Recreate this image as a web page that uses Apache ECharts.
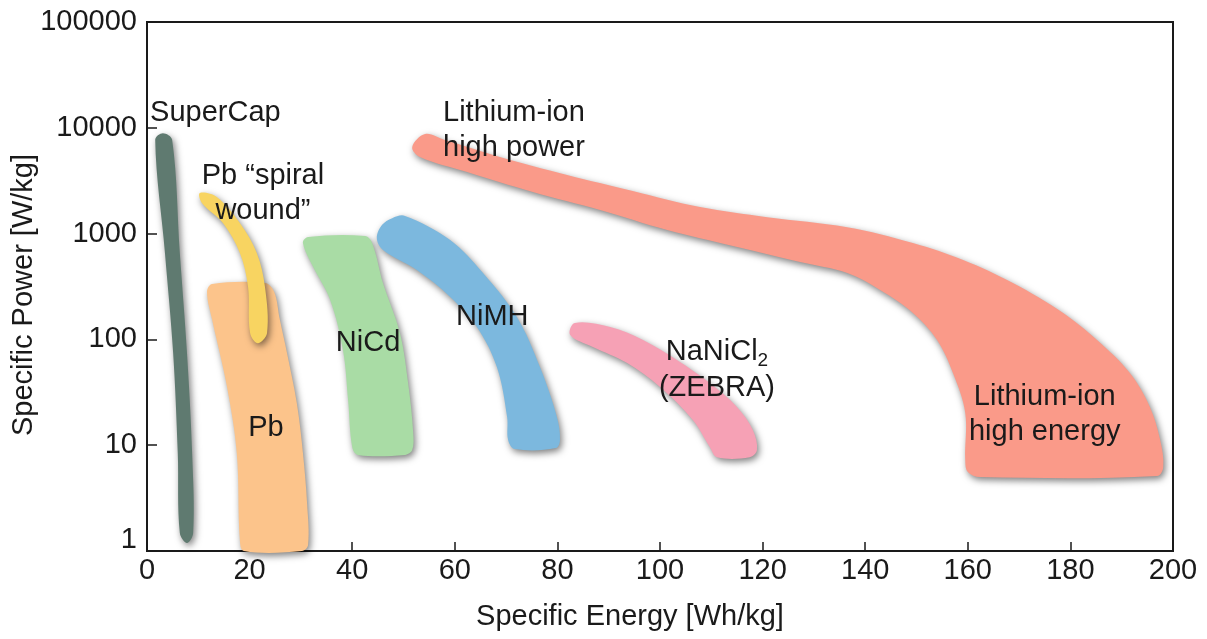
<!DOCTYPE html>
<html>
<head>
<meta charset="utf-8">
<title>Ragone plot</title>
<script src="https://cdn.jsdelivr.net/npm/echarts@6/dist/echarts.min.js"></script>
<style>
  html, body { margin: 0; padding: 0; background: #fff; }
  #chart { width: 1207px; height: 639px; }
</style>
</head>
<body>
<div id="chart"></div>
<script>
// Outline of each storage technology region as [specific energy Wh/kg, specific power W/kg]
const superCap = [
  [3.1, 8900], [4.9, 7700], [6.4, 656], [7.8, 74], [8.8, 8.4], [9.0, 1.48],
  [7.8, 1.19], [6.4, 1.48], [6.0, 8.4], [5.1, 74], [3.5, 656], [1.6, 7700]
];
const leadAcid = [
  [12.7, 334], [23.0, 341], [24.8, 281], [25.9, 153], [27.3, 74], [29.2, 25],
  [30.4, 8.4], [31.2, 2.84], [31.4, 1.14], [30.2, 1], [18.9, 1], [18.1, 1.27],
  [17.5, 8.4], [15.6, 35.5], [12.7, 153], [11.7, 281]
];
const spiralWound = [
  [10.3, 2420], [13.6, 2220], [18.1, 1260], [21.4, 656], [23.0, 313], [23.4, 115],
  [21.6, 92], [20.1, 115], [19.7, 313], [18.1, 656], [14.8, 1260], [10.7, 1950]
];
const nickelCadmium = [
  [31.4, 929], [42.5, 949], [43.9, 815], [46.0, 341], [49.3, 115], [50.9, 38.7],
  [51.9, 13.0], [51.7, 9.0], [50.3, 8.1], [41.1, 8.1], [40.0, 9.6], [39.2, 26.7],
  [38.2, 79.4], [35.7, 236], [32.4, 483], [30.4, 815]
];
const nickelMetalHydride = [
  [47.8, 1400], [50.3, 1470], [59.1, 870], [65.5, 424], [72.1, 163], [76.6, 54.8],
  [79.9, 18.5], [80.5, 11.2], [79.7, 9.4], [71.7, 9.2], [70.4, 11.2], [70.2, 18.5],
  [68.2, 54.8], [64.3, 131], [59.1, 252], [52.6, 453], [46.0, 700], [44.8, 908], [45.8, 1206]
];
const zebra = [
  [83.4, 143], [90.3, 131], [96.7, 98.7], [103.3, 63.9], [109.7, 38.7], [115.0, 23.0],
  [118.1, 13.9], [118.9, 9.0], [117.5, 7.7], [111.1, 7.7], [109.7, 9.6], [106.4, 17.3],
  [100.0, 35.5], [93.6, 59.8], [86.9, 84.8], [82.5, 110]
];
const lithiumIon = [
  [51.7, 6590], [54.2, 8740], [58.1, 7670], [68.8, 5300], [81.9, 3580], [94.7, 2530],
  [107.8, 1780], [120.9, 1430], [136.5, 1150], [149.3, 815], [159.1, 563], [168.8, 341],
  [178.6, 178], [185.2, 98.7], [191.6, 48.1], [195.5, 23.0], [197.5, 11.2], [198.1, 6.22],
  [196.9, 5.12], [162.4, 5.0], [160.0, 5.58], [159.5, 7.24], [159.5, 20.2], [157.1, 48.1],
  [154.0, 98.7], [149.3, 178], [142.9, 293], [136.5, 424], [127.3, 539], [114.2, 764],
  [101.4, 1080], [88.3, 1670], [75.2, 2470], [62.4, 3820], [53.2, 5300]
];

// Annotation texts and their anchor points (energy, power)
const labelTexts = [
  'SuperCap',
  'Pb \u201cspiral\nwound\u201d',
  'Pb',
  'NiCd',
  'NiMH',
  '{m|NaNiCl}{s|2}\n{m|(ZEBRA)}',
  'Lithium-ion\nhigh power',
  'Lithium-ion\nhigh energy'
];
const labelEnergy = [0.6, 22.6, 23.2, 43.1, 67.3, 111.1, 57.7, 175.0];
const labelPower = [13800, 2370, 14.5, 92.5, 163, 51.4, 9530, 19.7];
const labelAlign = ['left', 'center', 'center', 'center', 'center', 'center', 'left', 'center'];

const xTicks = { min: 0, max: 200, interval: 20 };
const yTicks = { min: 1, max: 100000 };

const FONT = '"Liberation Sans", Arial, Helvetica, sans-serif';
const INK = '#1a1a1a';

function regionSeries(name, outline, color) {
  return {
    type: 'custom',
    name: name,
    coordinateSystem: 'cartesian2d',
    data: outline,
    encode: { x: 0, y: 1 },
    silent: true,
    renderItem: function (params, api) {
      if (params.dataIndex !== 0) return null;
      const pts = outline.map(function (p) { return api.coord(p); });
      return {
        type: 'polygon',
        shape: { points: pts, smooth: 0.35, smoothConstraint: false },
        style: {
          fill: color,
          shadowBlur: 7,
          shadowColor: 'rgba(0,0,0,0.5)',
          shadowOffsetX: 2,
          shadowOffsetY: 3
        }
      };
    }
  };
}

const labelData = labelEnergy.map(function (e, i) { return [e, labelPower[i]]; });

const labelSeries = {
  type: 'custom',
  coordinateSystem: 'cartesian2d',
  data: labelData,
  encode: { x: 0, y: 1 },
  z: 10,
  silent: true,
  renderItem: function (params, api) {
    const i = params.dataIndex;
    const pt = api.coord(labelData[i]);
    return {
      type: 'text',
      x: pt[0],
      y: pt[1],
      z2: 100,
      style: {
        text: labelTexts[i],
        fill: INK,
        fontFamily: FONT,
        fontSize: 29,
        lineHeight: 35,
        align: labelAlign[i],
        verticalAlign: 'middle',
        rich: {
          m: { fontSize: 29, lineHeight: 36, fontFamily: FONT, fill: INK },
          s: { fontSize: 19, lineHeight: 17, verticalAlign: 'bottom', fontFamily: FONT, fill: INK }
        }
      }
    };
  }
};

const chart = echarts.init(document.getElementById('chart'), null, { renderer: 'canvas' });

chart.setOption({
  animation: false,
  backgroundColor: '#ffffff',
  grid: {
    left: 147, right: 34, top: 22, bottom: 88,
    outerBoundsMode: 'none',
    containLabel: false,
    show: true, borderColor: '#1a1a1a', borderWidth: 2, backgroundColor: 'transparent'
  },
  xAxis: {
    type: 'value',
    min: xTicks.min, max: xTicks.max, interval: xTicks.interval,
    name: 'Specific Energy [Wh/kg]',
    nameLocation: 'middle',
    nameGap: 51,
    nameMoveOverlap: false,
    nameTextStyle: { fontFamily: FONT, fontSize: 29, color: INK, padding: [0, 60, 0, 0] },
    axisLine: { show: true, lineStyle: { color: '#1a1a1a', width: 2 } },
    axisTick: { show: true, inside: true, length: 9, lineStyle: { color: '#1a1a1a', width: 1.5 } },
    axisLabel: { fontFamily: FONT, fontSize: 29, color: INK, margin: 5 },
    splitLine: { show: false }
  },
  yAxis: {
    type: 'log',
    logBase: 10,
    min: yTicks.min, max: yTicks.max,
    name: 'Specific Power [W/kg]',
    nameLocation: 'middle',
    nameGap: 109,
    nameRotate: 90,
    nameMoveOverlap: false,
    nameTextStyle: { fontFamily: FONT, fontSize: 29, color: INK, padding: [0, 17, 0, 0] },
    axisLine: { show: true, lineStyle: { color: '#1a1a1a', width: 2 } },
    axisTick: { show: true, inside: true, length: 10, lineStyle: { color: '#1a1a1a', width: 1.5 } },
    axisLabel: {
      fontFamily: FONT, fontSize: 29, color: INK, margin: 10,
      formatter: function (v) { return v === 1 ? '{lift|1}' : String(v); },
      rich: { lift: { padding: [0, 0, 22, 0], fontFamily: FONT, fontSize: 29, color: INK } }
    },
    splitLine: { show: false }
  },
  series: [
    regionSeries('SuperCap', superCap, '#5f7a70'),
    regionSeries('Pb', leadAcid, '#fcc48b'),
    regionSeries('Pb spiral wound', spiralWound, '#f8d461'),
    regionSeries('NiCd', nickelCadmium, '#a9dca5'),
    regionSeries('NiMH', nickelMetalHydride, '#7cb8de'),
    regionSeries('NaNiCl2', zebra, '#f6a1b5'),
    regionSeries('Lithium-ion', lithiumIon, '#fa9a89'),
    labelSeries
  ]
});
</script>
</body>
</html>
